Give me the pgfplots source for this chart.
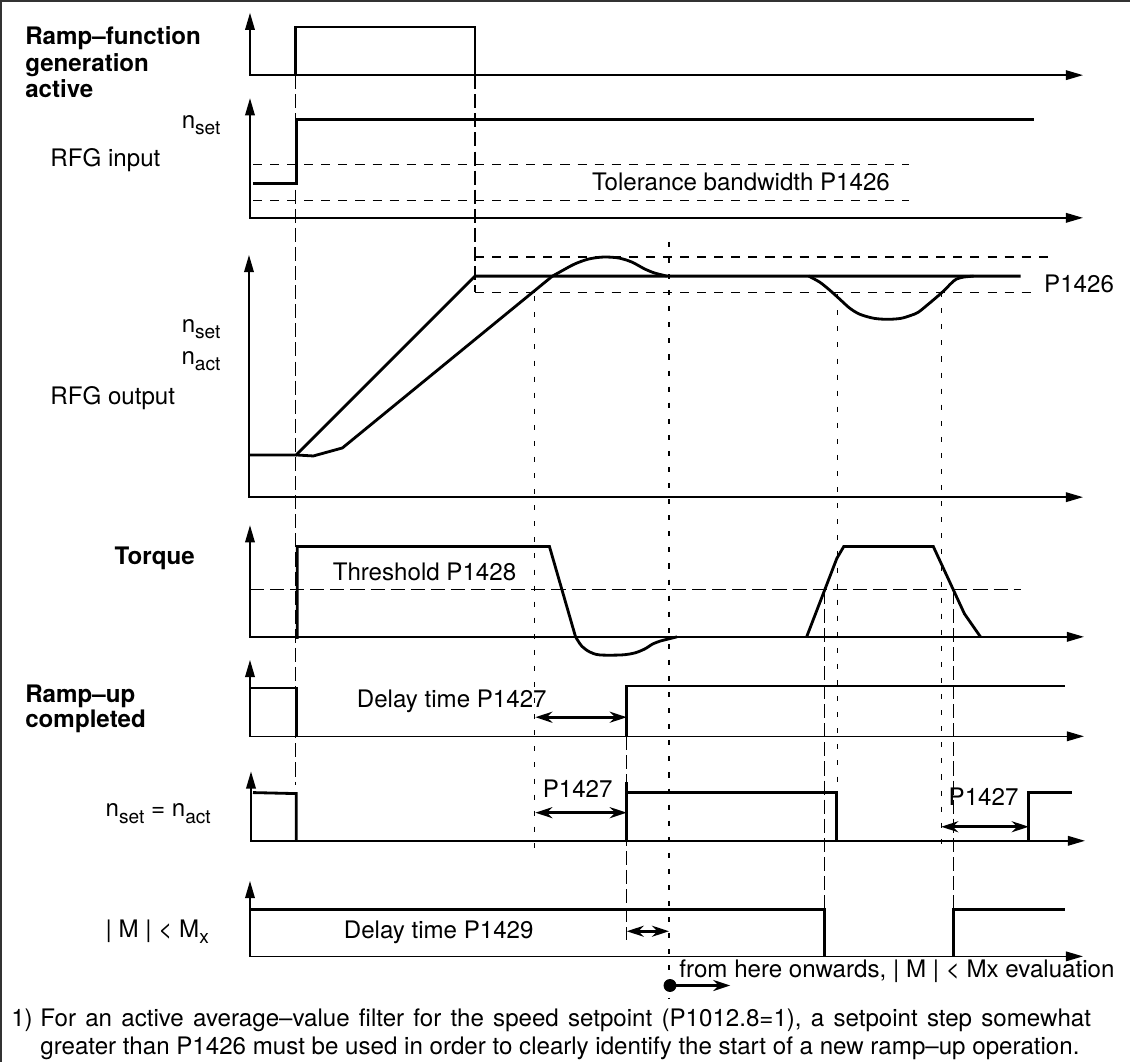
\documentclass[border=0pt]{standalone}
\usepackage{fontspec}
\setmainfont{TeX Gyre Heros}
\usepackage{pgfplots}
\pgfplotsset{compat=1.18}
\usetikzlibrary{arrows.meta}
\newcommand{\sub}[1]{\raisebox{-0.5ex}{\fontsize{9.5}{9.5}\selectfont #1}}
\tikzset{
 sig/.style={black, line width=1.4pt, line join=miter},
 ax/.style={black, line width=0.7pt, {Triangle[length=8.5pt,width=4.8pt]}-{Triangle[length=8.5pt,width=4.8pt]}},
 ldash/.style={black, line width=0.6pt, dash pattern=on 7pt off 2.5pt},
 sdash/.style={black, line width=0.6pt, dash pattern=on 2.5pt off 5.5pt},
 band/.style={black, line width=0.6pt, dash pattern=on 4.5pt off 4pt},
 thr/.style={black, line width=0.6pt, dash pattern=on 7pt off 3pt},
 darr/.style={black, line width=1.3pt, {Stealth[length=8.5pt,width=5.5pt]}-{Stealth[length=8.5pt,width=5.5pt]}},
 rarr/.style={black, line width=1.3pt, -{Stealth[length=8.5pt,width=5.5pt]}},
 lbl/.style={anchor=base west, inner sep=0pt, font=\fontsize{12}{14}\selectfont},
 lble/.style={anchor=base east, inner sep=0pt, font=\fontsize{12}{14}\selectfont},
 blbl/.style={anchor=base west, inner sep=0pt, font=\fontsize{12}{14}\selectfont\bfseries},
}
\begin{document}
\begin{tikzpicture}
\begin{axis}[width=565.5pt, height=533pt, scale only axis,
  xmin=0, xmax=1131, ymin=0, ymax=1066, y dir=reverse,
  axis lines=none, clip=false]
% frame
\addplot[black!80, line width=0.8pt] coordinates {(7,1066)(7,10)(1131,10)};
% vertical guide lines
\addplot[ldash] coordinates {(300,84)(300,790)};
\addplot[ldash] coordinates {(479,84)(479,300)};
\addplot[ldash] coordinates {(630,742)(630,945)};
\addplot[ldash] coordinates {(827,596)(827,961)};
\addplot[ldash] coordinates {(955,596)(955,961)};
\addplot[sdash] coordinates {(538,304)(538,855)};
\addplot[sdash] coordinates {(672,250)(672,1003)};
\addplot[sdash] coordinates {(840,302)(840,795)};
\addplot[sdash] coordinates {(943,300)(943,853)};
% panel 1
\addplot[ax] coordinates {(255,22)(255,84)(1084,84)};
\addplot[sig] coordinates {(300,84)(300,36)(479,36)(479,84)};
% panel 2
\addplot[ax] coordinates {(255,107)(255,226)(1084,226)};
\addplot[band] coordinates {(258,173)(911,173)};
\addplot[band] coordinates {(258,209)(911,209)};
\addplot[sig] coordinates {(258,192)(301,192)(301,128)(1035,128)};
% panel 3
\addplot[ax] coordinates {(254,263)(254,504)(1084,504)};
\addplot[band] coordinates {(479,265)(1050,265)};
\addplot[band] coordinates {(479,300)(1033,300)};
\addplot[sig] coordinates {(254,462)(301,462)(479,284)(1022,284)};
\addplot[sig] coordinates {(301,462)(318,463)(347,455)(556,284)};
\addplot[sig, smooth, tension=0.5] coordinates {(556,284)(565,279)(578,272)(592,267)(607,265)(622,266)(635,270)(648,277)(658,281)(670,284)};
\addplot[sig, smooth, tension=0.5] coordinates {(811,284)(822,290)(832,298)(842,307)(852,316)(862,322)(876,326)(890,327)(903,326)(913,323)(920,320)(930,312)(944,300)(953,291)(958,287)(965,285)(975,284)};
% panel 4
\addplot[ax] coordinates {(255,532)(255,643)(1085,643)};
\addplot[thr] coordinates {(255,596)(1022,596)};
\addplot[sig] coordinates {(302,645)(302,553)(553,553)(579,643)};
\addplot[sig, smooth, tension=0.5] coordinates {(579,643)(585,652)(593,658)(603,661)(625,661)(638,659)(648,655)(656,650)(664,647)(672,645)(680,643)};
\addplot[sig] coordinates {(809,643)(839,565)(846,553)(935,553)(966,620)(982,643)};
% panel 5
\addplot[ax] coordinates {(255,666)(255,742)(1085,742)};
\addplot[sig] coordinates {(255,694)(301,694)(301,742)};
\addplot[sig] coordinates {(630,742)(630,692)(1066,692)};
\addplot[darr] coordinates {(539,723)(630,723)};
% panel 6
\addplot[ax] coordinates {(256,777)(256,846)(1086,846)};
\addplot[sig] coordinates {(258,798)(301,799)(301,846)};
\addplot[sig] coordinates {(630,846)(630,798)(839,798)(839,846)};
\addplot[sig] coordinates {(630,798)(630,787)};
\addplot[sig] coordinates {(1030,846)(1030,798)(1073,798)};
\addplot[darr] coordinates {(539,818)(630,818)};
\addplot[darr] coordinates {(943,832)(1030,832)};
% panel 7
\addplot[ax] coordinates {(255,886)(255,961)(1084,961)};
\addplot[sig] coordinates {(255,914)(827,914)(827,961)};
\addplot[sig] coordinates {(955,961)(955,914)(1066,914)};
\addplot[darr] coordinates {(630,936)(672,936)};
\addplot[rarr] coordinates {(673,990)(733,990)};
\addplot[only marks, mark=*, mark size=3pt, black] coordinates {(673,990)};
% labels
\node[blbl] at (axis cs:31,53) {Ramp--function};
\node[blbl] at (axis cs:31,80) {generation};
\node[blbl] at (axis cs:31,106) {active};
\node[lble] at (axis cs:226,137) {n\sub{set}};
\node[lbl] at (axis cs:56,175) {RFG input};
\node[lbl] at (axis cs:595,199) {Tolerance bandwidth P1426};
\node[lble] at (axis cs:226,340) {n\sub{set}};
\node[lble] at (axis cs:226,372) {n\sub{act}};
\node[lbl] at (axis cs:56,412) {RFG output};
\node[lbl] at (axis cs:1045,300) {P1426};
\node[blbl] at (axis cs:120,571) {Torque};
\node[lbl] at (axis cs:337,587) {Threshold P1428};
\node[blbl] at (axis cs:31,708) {Ramp--up};
\node[blbl] at (axis cs:31,733) {completed};
\node[lbl] at (axis cs:361,713) {Delay time P1427};
\node[lbl] at (axis cs:111,822) {n\sub{set} = n\sub{act}};
\node[lbl] at (axis cs:546,803) {P1427};
\node[lbl] at (axis cs:950,811) {P1427};
\node[lbl] at (axis cs:111,942) {| M | < M\sub{x}};
\node[lbl] at (axis cs:348,943) {Delay time P1429};
\node[lbl] at (axis cs:682,982) {from here onwards, | M | < Mx evaluation};
\node[lbl] at (axis cs:17,1031) {1)};
\node[lbl] at (axis cs:46,1031) {\spaceskip=4.6pt For an active average--value filter for the speed setpoint (P1012.8=1), a setpoint step somewhat};
\node[lbl] at (axis cs:46,1059) {greater than P1426 must be used in order to clearly identify the start of a new ramp--up operation.};
\end{axis}
\end{tikzpicture}
\end{document}
